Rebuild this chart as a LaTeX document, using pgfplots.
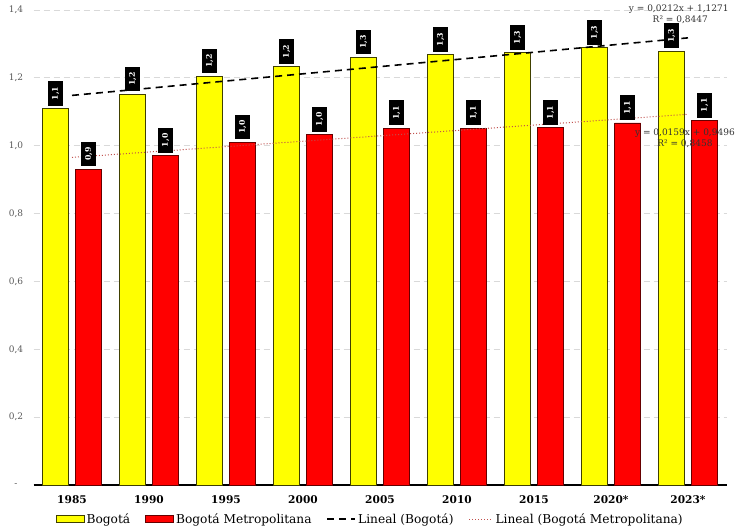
\documentclass[border=0pt]{standalone}
\usepackage{pgfplots}
\pgfplotsset{compat=1.18}
\usepackage{fontspec}
\usepackage{graphicx}
\setmainfont{DejaVu Serif}

\definecolor{barY}{RGB}{255,255,0}
\definecolor{barR}{RGB}{255,0,0}
\definecolor{trendR}{RGB}{192,80,77}
\definecolor{gridc}{RGB}{217,217,217}
\definecolor{ticktxt}{RGB}{89,89,89}

% indice (1985=0 ... 2023*=8), Bogota, Bogota Metropolitana
\pgfplotstableread{
x bog met
0 1.109 0.931
1 1.151 0.971
2 1.204 1.010
3 1.233 1.033
4 1.260 1.052
5 1.268 1.052
6 1.274 1.053
7 1.289 1.067
8 1.279 1.074
}\datos

\pgfplotsset{
  etiq/.style={
    nodes near coords={\rotatebox{90}{\pgfmathprintnumber[fixed,fixed zerofill,precision=1,use comma,assume math mode=true]{\pgfplotspointmeta}}},
    nodes near coords style={anchor=south, fill=black, text=white,
      font=\fontsize{7.8}{8}\selectfont\bfseries, inner xsep=4pt, inner ysep=5.5pt,
      outer ysep=3pt, xshift=#1},
  },
  barleg/.style={legend image code/.code={\draw[##1,/tikz/.cd,yshift=-3.5pt] (0pt,0pt) rectangle (28pt,7pt);}},
  lineleg/.style={legend image code/.code={\draw[##1] (0pt,0pt) -- (#1,0pt);}},
}

\begin{document}
\begin{tikzpicture}
\useasboundingbox (-33.5pt,-45pt) rectangle (707.5pt,485pt);
\begin{axis}[
  at={(0,0)}, anchor=south west,
  scale only axis,
  width=693pt, height=475pt,
  xmin=-0.5, xmax=8.5, ymin=0, ymax=1.4,
  xtick={0,1,2,3,4,5,6,7,8},
  xticklabels={1985,1990,1995,2000,2005,2010,2015,2020*,2023*},
  ytick={0,0.2,0.4,0.6,0.8,1.0,1.2,1.4},
  yticklabels={-,{0,2},{0,4},{0,6},{0,8},{1,0},{1,2},{1,4}},
  ymajorgrids,
  grid style={gridc, dash pattern=on 6pt off 4pt, line width=0.8pt},
  axis x line*=bottom, axis y line*=left,
  x axis line style={black, line width=1.5pt, -},
  y axis line style={draw=none},
  major tick length=0pt,
  xticklabel style={anchor=center, yshift=-15pt, font=\fontsize{10.6}{12}\selectfont\bfseries},
  yticklabel style={anchor=center, xshift=-17.5pt, text=ticktxt, font=\fontsize{9}{10}\selectfont},
  clip=false,
  legend columns=4,
  legend style={at={(0.486,-0.0716)}, anchor=center, draw=none, fill=none,
    font=\fontsize{12.2}{14}\selectfont, inner xsep=0pt,
    /tikz/every even column/.append style={column sep=13pt},
    /tikz/column 6/.style={column sep=40pt}},
]
\addplot[ybar, bar width=26pt, bar shift=-16.5pt, fill=barY, draw=black!75!barY, line width=0.8pt, etiq=-16.5pt, barleg]
  table[x=x, y=bog] {\datos};
\addlegendentry{Bogotá}
\addplot[ybar, bar width=26pt, bar shift=16.5pt, fill=barR, draw=black!60!barR, line width=0.8pt, etiq=16.5pt, barleg]
  table[x=x, y=met] {\datos};
\addlegendentry{Bogotá Metropolitana}
\addplot[sharp plot, black, line width=1.6pt, dash pattern=on 7pt off 5pt, lineleg=28pt]
  coordinates {(0,1.1483) (8,1.3179)};
\addlegendentry{Lineal (Bogotá)}
\addplot[sharp plot, trendR, line width=1pt, dotted, lineleg=24pt]
  coordinates {(0,0.9655) (8,1.0927)};
\addlegendentry{Lineal (Bogotá Metropolitana)}

\node[font=\fontsize{9}{10}\selectfont, text=black!80] at (axis cs:7.88,1.403) {y = 0,0212x + 1,1271};
\node[font=\fontsize{9}{10}\selectfont, text=black!80] at (axis cs:7.9,1.371) {R² = 0,8447};
\node[font=\fontsize{9}{10}\selectfont, text=black!80] at (axis cs:7.96,1.038) {y = 0,0159x + 0,9496};
\node[font=\fontsize{9}{10}\selectfont, text=black!80] at (axis cs:7.96,1.006) {R² = 0,8458};
\end{axis}
\end{tikzpicture}
\end{document}
